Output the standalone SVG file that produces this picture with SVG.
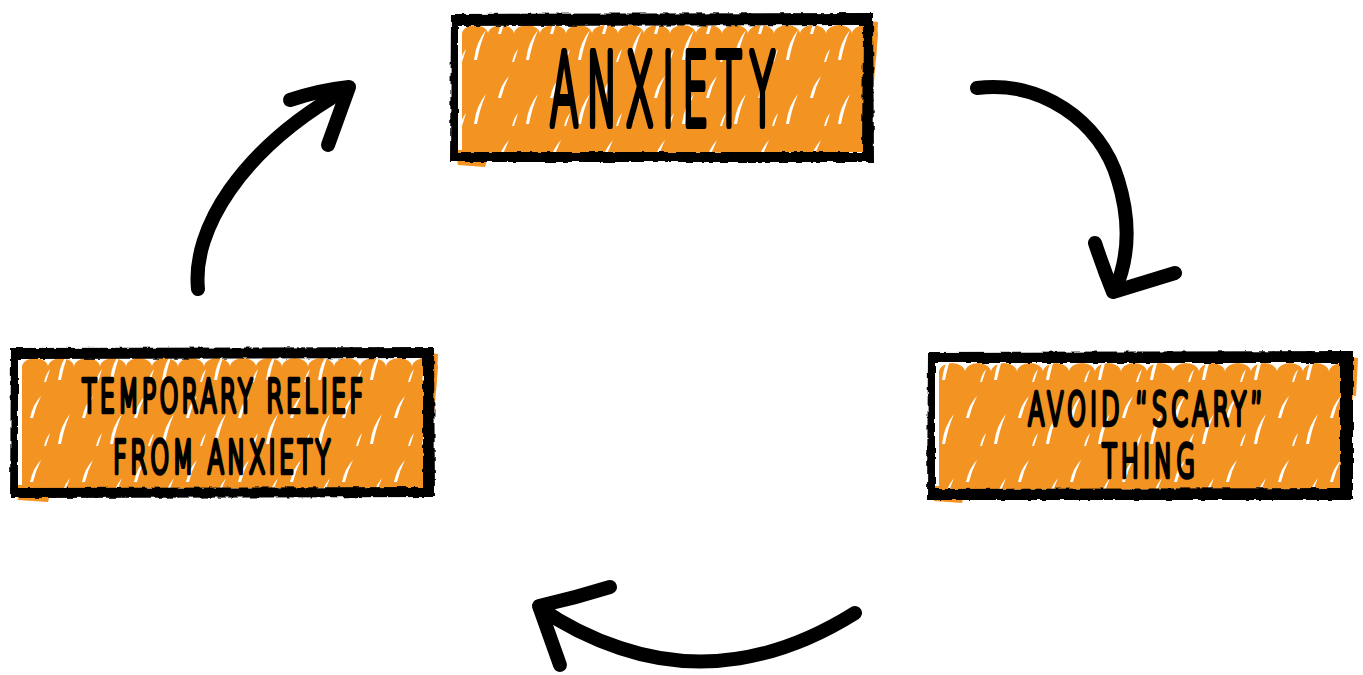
<svg xmlns="http://www.w3.org/2000/svg" width="1363" height="675" viewBox="0 0 1363 675">
<style>
.fill{fill:url(#scr)}
.border{fill:#000;fill-rule:evenodd;filter:url(#rough)}
.lbl{font-family:"DejaVu Sans","Liberation Sans",sans-serif;font-weight:200;fill:#000;stroke:#000;stroke-linejoin:round;stroke-linecap:round;vector-effect:non-scaling-stroke}
.big{font-size:99px;stroke-width:6}
.small{font-size:44px;stroke-width:3.8}
.arrow{fill:none;stroke:#000;stroke-width:14;stroke-linecap:round;stroke-linejoin:round}
.spill{fill:#F39322}
</style>
<defs>
<pattern id="scr" width="52" height="64" patternUnits="userSpaceOnUse">
<rect width="52" height="64" fill="#F39322"/>
<path d="M6,60 Q8,42 18,30 Q12,44 9,60 Z" fill="#fff"/>
<path d="M30,34 Q33,20 41,12 Q36,22 33,34 Z" fill="#fff"/>
<path d="M44,62 Q46,54 50,49 Q48,56 46,62 Z" fill="#fff"/>
</pattern>
<filter id="rough" x="-5%" y="-10%" width="110%" height="120%">
<feTurbulence type="fractalNoise" baseFrequency="0.12" numOctaves="2" seed="3"/>
<feDisplacementMap in="SourceGraphic" scale="4" xChannelSelector="R" yChannelSelector="G"/>
</filter>
</defs>

<g id="node-anxiety">
<path class="spill" d="M860,20 L878,22 L876,60 L862,58 Z M455,150 L490,150 L485,167 L458,165 Z"/>
<path class="fill" d="M462,34 a13,9 0 0 1 26,0 a13,9 0 0 1 26,0 a13,9 0 0 1 26,0 a13,9 0 0 1 26,0 a13,9 0 0 1 26,0 a13,9 0 0 1 26,0 a13,9 0 0 1 26,0 a13,9 0 0 1 26,0 a13,9 0 0 1 26,0 a13,9 0 0 1 26,0 a13,9 0 0 1 26,0 a13,9 0 0 1 26,0 a13,9 0 0 1 26,0 a13,9 0 0 1 26,0 a13,9 0 0 1 26,0 a13,9 0 0 1 26,0 L868,152 L462,154 Z"/>
<path class="border" d="M451,14 L873,13 L874,162 L450,162 Z M458,26 L863,25 L862,152 L458,152 Z"/>
<text class="lbl big" transform="translate(550,125) scale(0.42,1)" x="0" y="0" textLength="536" lengthAdjust="spacing">ANXIETY</text>
</g>

<g id="node-relief">
<path class="spill" d="M420,352 L438,354 L436,392 L424,390 Z M16,485 L52,485 L48,502 L18,500 Z"/>
<path class="fill" d="M22,367 a13,9 0 0 1 26,0 a13,9 0 0 1 26,0 a13,9 0 0 1 26,0 a13,9 0 0 1 26,0 a13,9 0 0 1 26,0 a13,9 0 0 1 26,0 a13,9 0 0 1 26,0 a13,9 0 0 1 26,0 a13,9 0 0 1 26,0 a13,9 0 0 1 26,0 a13,9 0 0 1 26,0 a13,9 0 0 1 26,0 a13,9 0 0 1 26,0 a13,9 0 0 1 26,0 a13,9 0 0 1 26,0 a13,9 0 0 1 26,0 L428,488 L22,489 Z"/>
<path class="border" d="M11,348 L434,347 L435,497 L10,498 Z M18,359 L423,358 L423,487 L18,488 Z"/>
<text class="lbl small" transform="translate(82,412) scale(0.55,1)" x="0" y="0" textLength="511" lengthAdjust="spacing">TEMPORARY RELIEF</text>
<text class="lbl small" transform="translate(113,473) scale(0.55,1)" x="0" y="0" textLength="395" lengthAdjust="spacing">FROM ANXIETY</text>
</g>

<g id="node-avoid">
<path class="spill" d="M1340,356 L1358,358 L1356,396 L1344,394 Z M932,486 L966,486 L962,503 L934,501 Z"/>
<path class="fill" d="M939,372 a13,9 0 0 1 26,0 a13,9 0 0 1 26,0 a13,9 0 0 1 26,0 a13,9 0 0 1 26,0 a13,9 0 0 1 26,0 a13,9 0 0 1 26,0 a13,9 0 0 1 26,0 a13,9 0 0 1 26,0 a13,9 0 0 1 26,0 a13,9 0 0 1 26,0 a13,9 0 0 1 26,0 a13,9 0 0 1 26,0 a13,9 0 0 1 26,0 a13,9 0 0 1 26,0 a13,9 0 0 1 26,0 a13,9 0 0 1 26,0 L1345,489 L939,490 Z"/>
<path class="border" d="M928,352 L1353,351 L1353,500 L927,500 Z M935,363 L1340,363 L1340,488 L935,489 Z"/>
<text class="lbl small" transform="translate(1028,425) scale(0.55,1)" x="0" y="0" textLength="427" lengthAdjust="spacing">AVOID “SCARY”</text>
<text class="lbl small" transform="translate(1102,477) scale(0.55,1)" x="0" y="0" textLength="169" lengthAdjust="spacing">THING</text>
</g>

<g id="connectors">
<path class="arrow" d="M198,289 C192,230 240,150 345,90"/>
<path class="arrow" d="M290,100 Q320,90 349,87 L328,145"/>
<path class="arrow" d="M977,88 C1040,80 1100,120 1118,180 C1132,225 1128,260 1115,290"/>
<path class="arrow" d="M1095,243 Q1104,270 1113,292 L1175,273"/>
<path class="arrow" d="M855,613 C780,660 700,675 620,648 C590,638 560,622 540,608"/>
<path class="arrow" d="M610,587 Q575,598 539,606 L560,665"/>
</g>
</svg>
